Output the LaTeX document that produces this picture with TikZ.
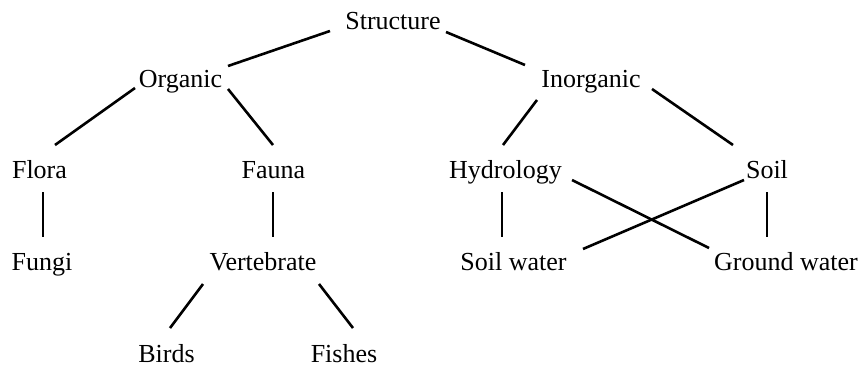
\documentclass[tikz,border=0pt]{standalone}
\usepackage{fontspec}
\setmainfont{Liberation Serif}
\begin{document}
\begin{tikzpicture}[x=1pt,y=-1pt,
  lbl/.style={anchor=base,inner sep=0pt,font=\fontsize{26}{30}\selectfont},
  edge/.style={line width=2.6pt}]
\useasboundingbox (0,0) rectangle (862,367);
% nodes (base points)
\node[lbl] (structure) at (393,29) {Structure};
\node[lbl] (organic) at (180.5,87) {Organic};
\node[lbl] (inorganic) at (591,87) {Inorganic};
\node[lbl] (flora) at (39.5,178) {Flora};
\node[lbl] (fauna) at (273.5,178) {Fauna};
\node[lbl] (hydrology) at (505.5,178) {Hydrology};
\node[lbl] (soil) at (767,178) {Soil};
\node[lbl] (fungi) at (42,270) {Fungi};
\node[lbl] (vertebrate) at (263,270) {Vertebrate};
\node[lbl] (soilwater) at (513.5,270) {Soil water};
\node[lbl] (groundwater) at (786,270) {Ground water};
\node[lbl] (birds) at (166.5,362) {Birds};
\node[lbl] (fishes) at (344,362) {Fishes};
% connector ends
\coordinate (s-o) at (330,31);   \coordinate (o-s) at (228,66);
\coordinate (s-i) at (446,32);   \coordinate (i-s) at (525,65);
\coordinate (o-fl) at (135,88);  \coordinate (fl-o) at (55,145);
\coordinate (o-fa) at (228,89);  \coordinate (fa-o) at (273,145);
\coordinate (i-h) at (537,100);  \coordinate (h-i) at (503,145);
\coordinate (i-so) at (652,89);  \coordinate (so-i) at (733,145);
\coordinate (fl-fu) at (43,192); \coordinate (fu-fl) at (43,237);
\coordinate (fa-v) at (273,192); \coordinate (v-fa) at (273,237);
\coordinate (h-sw) at (502,192); \coordinate (sw-h) at (502,237);
\coordinate (so-gw) at (767,192);\coordinate (gw-so) at (767,237);
\coordinate (h-gw) at (572,180); \coordinate (gw-h) at (709,248);
\coordinate (so-sw) at (744,180);\coordinate (sw-so) at (583,249);
\coordinate (v-b) at (203,284);  \coordinate (b-v) at (170,328);
\coordinate (v-f) at (319,284);  \coordinate (f-v) at (353,328);
% connectors
\draw[edge] (s-o) -- (o-s);
\draw[edge] (s-i) -- (i-s);
\draw[edge] (o-fl) -- (fl-o);
\draw[edge] (o-fa) -- (fa-o);
\draw[edge] (i-h) -- (h-i);
\draw[edge] (i-so) -- (so-i);
\draw[edge] (fl-fu) -- (fu-fl);
\draw[edge] (fa-v) -- (v-fa);
\draw[edge] (h-sw) -- (sw-h);
\draw[edge] (so-gw) -- (gw-so);
\draw[edge] (h-gw) -- (gw-h);
\draw[edge] (so-sw) -- (sw-so);
\draw[edge] (v-b) -- (b-v);
\draw[edge] (v-f) -- (f-v);
\end{tikzpicture}
\end{document}
